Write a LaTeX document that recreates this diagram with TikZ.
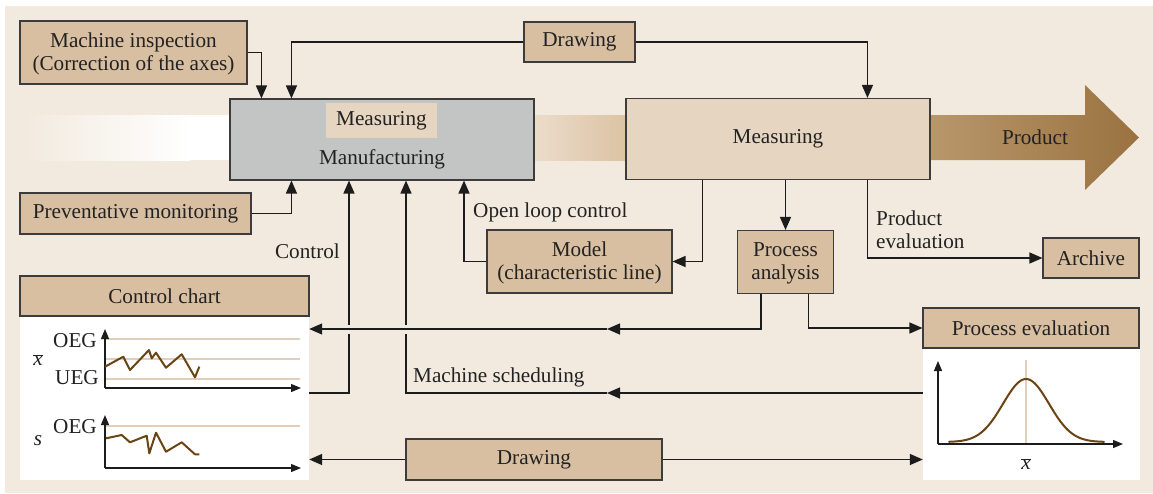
\documentclass[tikz,border=0pt]{standalone}
\usepackage{fontspec}
\setmainfont{Liberation Serif}
\usetikzlibrary{arrows.meta}

\definecolor{bgc}{HTML}{F2EADF}
\definecolor{tanc}{HTML}{D9BFA1}
\definecolor{lightc}{HTML}{E5D5C1}
\definecolor{grayc}{HTML}{C3C5C5}
\definecolor{bordc}{HTML}{3C3C3C}
\definecolor{linec}{HTML}{1C1C1C}
\definecolor{txt}{HTML}{222222}
\definecolor{guidec}{HTML}{E3CFB8}
\definecolor{tracec}{HTML}{6B4414}
\definecolor{prodL}{HTML}{B8976B}
\definecolor{prodR}{HTML}{9A7240}
\definecolor{bandL}{HTML}{EBDCCA}
\definecolor{bandR}{HTML}{DCC3A3}

\tikzset{
  box/.style={draw=bordc, line width=1.1pt, fill=tanc, text=txt, align=center, inner sep=2pt},
  conn/.style={draw=linec, line width=1.4pt},
  arr/.style={conn, -{Triangle[length=13pt,width=11pt]}},
  lbl/.style={text=txt, inner sep=0pt},
  chartaxis/.style={draw=linec, line width=1.2pt, -{Triangle[length=10pt,width=8pt]}},
  guideline/.style={draw=guidec, line width=1.2pt},
  datatrace/.style={draw=tracec, line width=2pt, line join=round},
  panel/.style={fill=white, draw=none, inner sep=0pt},
}

\begin{document}
\begin{tikzpicture}[x=1pt, y=-1pt, font=\fontsize{21.2}{23}\selectfont]
\useasboundingbox (0,0) rectangle (1153,493);
\fill[bgc] (5,6) rectangle (1153,493);

% material flow bands
\shade[left color=bgc, right color=white] (25,115) rectangle (190,160);
\fill[white] (190,115) rectangle (230,160);
\shade[left color=bandL, right color=bandR] (534,115) rectangle (626,160);
\shade[left color=prodL, right color=prodR]
  (930,115) -- (1085,115) -- (1085,85) -- (1139,137.5) -- (1085,190) -- (1085,160) -- (930,160) -- cycle;
\node[lbl] (prod) at (1035,137) {Product};

% boxes
\node[box, minimum width=227pt, minimum height=63pt] (mi) at (133.5,52.5) {};
\node[lbl, align=center] (mitxt) at (133.5,54) {Machine inspection\\(Correction of the axes)};
\node[box, minimum width=111pt, minimum height=40pt] (dtop) at (579.5,42) {Drawing};
\node[box, fill=grayc, minimum width=304pt, minimum height=81pt] (mfg) at (382,139.5) {};
\node[fill=lightc, text=txt, inner sep=0pt, minimum width=111pt, minimum height=35pt] (mmeas) at (381.5,120.5) {Measuring};
\node[lbl] (mfgtxt) at (382,159) {Manufacturing};
\node[box, fill=lightc, minimum width=304pt, minimum height=81pt] (meas) at (778,139) {Measuring};
\node[box, minimum width=231pt, minimum height=41pt] (pm) at (135.5,213.5) {Preventative monitoring};
\node[box, minimum width=185pt, minimum height=63pt] (model) at (579.5,261.5) {};
\node[lbl, align=center] (modeltxt) at (579.5,263) {Model\\(characteristic line)};
\node[box, minimum width=96pt, minimum height=63pt] (pa) at (785.5,262) {};
\node[lbl, align=center] (patxt) at (785.5,263.5) {Process\\analysis};
\node[box, minimum width=96pt, minimum height=40pt] (archive) at (1091,258) {Archive};
\node[panel, minimum width=289pt, minimum height=164pt] (ccw) at (164.5,398) {};
\node[box, minimum width=289pt, minimum height=40pt] (cc) at (164.5,296) {Control chart};
\node[panel, minimum width=217pt, minimum height=132pt] (pew) at (1031.5,414) {};
\node[box, minimum width=216pt, minimum height=40pt] (pe) at (1031,328) {Process evaluation};
\node[box, minimum width=256pt, minimum height=41pt] (dbot) at (534,459.5) {Drawing};

% free corner points of the connectors
\coordinate (ctrl) at (349,393);
\coordinate (ms) at (406,393);
\coordinate (msmid) at (607,393);
\coordinate (ol) at (464,261.5);
\coordinate (pamid) at (607,329);

% inputs to manufacturing
\draw[arr] (mi.east) -| ([xshift=32pt]mfg.north west);
\draw[arr] (dtop.west) -| ([xshift=62pt]mfg.north west);
\draw[arr] (dtop.east) -| ([xshift=242pt]meas.north west);
\draw[arr] (pm.east) -| ([xshift=62pt]mfg.south west);
\draw[arr] (ccw.east |- ctrl) -- (ctrl) -- (ctrl |- mfg.south);
\draw[arr] (pew.west |- msmid) -- (msmid);
\draw[arr] (msmid) -- (ms) -- (ms |- mfg.south);
\draw[arr] (model.west) -- (ol) -- (ol |- mfg.south);

% outputs of measuring
\draw[arr] ([xshift=77pt]meas.south west) |- (model.east);
\draw[arr] (pa.north |- meas.south) -- (pa.north);
\draw[arr] ([xshift=242pt]meas.south west) |- (archive.west);

% process analysis feedback
\draw[arr] ([xshift=24pt]pa.south west) |- (pamid);
\draw[conn, line width=9pt, draw=bgc] (pamid) -- (ccw.east |- pamid);
\draw[arr] (pamid) -- (ccw.east |- pamid);
\draw[arr] ([xshift=71.6pt]pa.south west) |- (pe.west);

% drawing to both charts
\draw[arr] (dbot.west) -- (ccw.east |- dbot.west);
\draw[arr] (dbot.east) -- (pew.west |- dbot.east);

% connector labels
\node[lbl, anchor=east] (lctrl) at (340,251) {Control};
\node[lbl, anchor=west] (lol) at (473,212) {Open loop control};
\node[lbl, anchor=west] (lms) at (413,377) {Machine scheduling};
\node[lbl, anchor=west, align=left] (lpe) at (876,229.5) {Product\\evaluation};

% x-bar chart
\draw[guideline] (105,339) -- (300,339);
\draw[guideline] (105,359) -- (300,359);
\draw[guideline] (105,379) -- (300,379);
\draw[chartaxis] (105,388) -- (105,329);
\draw[chartaxis] (105,388) -- (301,388);
\draw[datatrace] (105,366.7) -- (123.3,356.7) -- (130,370) -- (149,350) -- (151.7,358.3) -- (156,352.7)
  -- (166,367.7) -- (181.7,354.3) -- (195,377.3) -- (199.3,366.7);
\node[lbl, anchor=east] (oeg1) at (97,341) {OEG};
\node[lbl, anchor=east] (ueg1) at (99,378) {UEG};
\node[lbl] (xb1) at (38,360) {$\overline{\textit{x}}$};

% s chart
\draw[guideline] (105,426) -- (300,426);
\draw[chartaxis] (105,468) -- (105,415);
\draw[chartaxis] (105,468) -- (301,468);
\draw[datatrace] (106,438.3) -- (121.7,435) -- (130,442.3) -- (146.7,435.7) -- (149.3,453.3) -- (156,432.7)
  -- (166,451.7) -- (181.7,442.3) -- (195,454.3) -- (199.3,454.3);
\node[lbl, anchor=east] (oeg2) at (97,427) {OEG};
\node[lbl] (s2) at (38,441) {\textit{s}};

% distribution of the process
\draw[guideline] (1026,360) -- (1026,444);
\draw[chartaxis] (938,444) -- (938,361);
\draw[chartaxis] (938,444) -- (1123,444);
\draw[datatrace, line cap=round] plot[domain=949:1104, samples=90] (\x, {442-63*exp(-((\x-1026)^2)/(2*23^2))});
\node[lbl] (xb2) at (1026,464) {$\overline{\textit{x}}$};
\end{tikzpicture}
\end{document}
